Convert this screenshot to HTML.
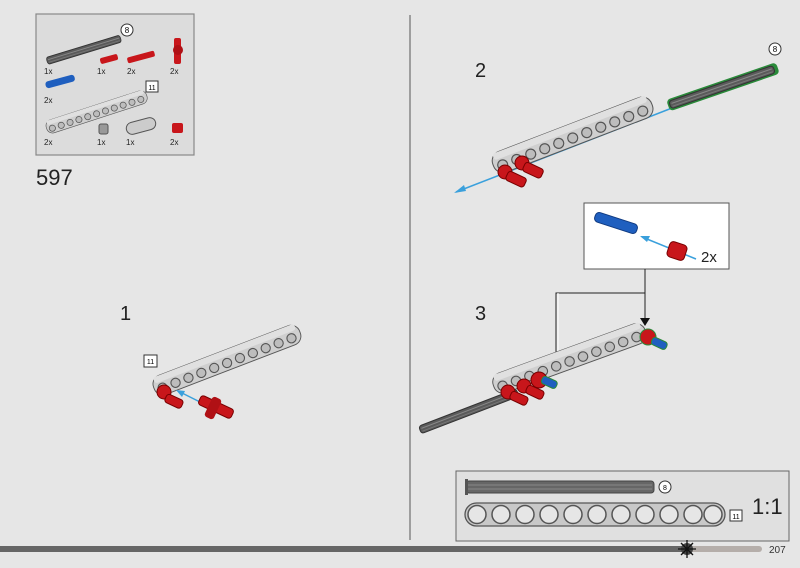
<!DOCTYPE html>
<html><head><meta charset="utf-8"><style>
html,body{margin:0;padding:0;background:#e6e6e6;}
svg{display:block;font-family:"Liberation Sans",sans-serif;}
</style></head><body>
<svg width="800" height="568" viewBox="0 0 800 568" xmlns="http://www.w3.org/2000/svg">
<defs>
<g id="beam">
<rect x="-9" y="-12" width="170" height="22" rx="10" fill="#cfcfcf" stroke="#555" stroke-width="1"/>
<rect x="-6" y="-12" width="164" height="7" rx="3" fill="#e0e0e0"/>
<g fill="#bdbdbd" stroke="#555" stroke-width="1.2">
<circle cx="0" cy="2" r="5"/><circle cx="15" cy="2" r="5"/><circle cx="30" cy="2" r="5"/><circle cx="45" cy="2" r="5"/><circle cx="60" cy="2" r="5"/><circle cx="75" cy="2" r="5"/><circle cx="90" cy="2" r="5"/><circle cx="105" cy="2" r="5"/><circle cx="120" cy="2" r="5"/><circle cx="135" cy="2" r="5"/><circle cx="150" cy="2" r="5"/>
</g>
</g>
<g id="axle">
<rect x="0" y="-4" width="110" height="8" rx="3" fill="#5a5a5a" stroke="#333"/>
<line x1="2" y1="-1" x2="108" y2="-1" stroke="#888"/>
<line x1="2" y1="2" x2="108" y2="2" stroke="#777"/>
</g>
</defs>
<rect width="800" height="568" fill="#e6e6e6"/>

<rect x="36" y="14" width="158" height="141" fill="#dcdcdc" stroke="#888" stroke-width="1.2"/>
<g transform="translate(47,61) rotate(-17)"><use href="#axle" transform="scale(0.7,0.9)"/></g>
<circle cx="127" cy="30" r="6" fill="#fff" stroke="#333"/><text x="127" y="33" font-size="8" text-anchor="middle">8</text>
<rect x="100" y="56" width="18" height="6" rx="2" fill="#c8161b" transform="rotate(-15 109 59)"/>
<rect x="127" y="54" width="28" height="6" rx="2" fill="#c8161b" transform="rotate(-15 141 57)"/>
<rect x="174" y="38" width="7" height="26" rx="2" fill="#c8161b"/><circle cx="178" cy="50" r="5" fill="#b01015"/>
<rect x="45" y="78" width="30" height="7" rx="3" fill="#1f5fbf" transform="rotate(-15 60 81)"/>
<text font-size="8" fill="#222"><tspan x="44" y="74">1x</tspan><tspan x="97" y="74">1x</tspan><tspan x="127" y="74">2x</tspan><tspan x="170" y="74">2x</tspan><tspan x="44" y="103">2x</tspan><tspan x="44" y="145">2x</tspan><tspan x="97" y="145">1x</tspan><tspan x="126" y="145">1x</tspan><tspan x="170" y="145">2x</tspan></text>
<use href="#beam" transform="translate(52,127) rotate(-18) scale(0.62)"/>
<rect x="146" y="81" width="12" height="11" fill="#fff" stroke="#333"/><text x="152" y="90" font-size="7" text-anchor="middle">11</text>
<rect x="99" y="124" width="9" height="10" rx="2" fill="#999" stroke="#555"/>
<rect x="126" y="120" width="30" height="12" rx="6" fill="#ccc" stroke="#555" transform="rotate(-15 141 126)"/>
<rect x="172" y="123" width="11" height="10" rx="2" fill="#c8161b"/>
<text x="36" y="185" font-size="22" fill="#222">597</text>

<line x1="410" y1="15" x2="410" y2="540" stroke="#555" stroke-width="1"/>

<text x="120" y="320" font-size="20" fill="#222">1</text>
<use href="#beam" transform="translate(162,386) rotate(-21) scale(0.92)"/>
<rect x="144" y="355" width="13" height="12" fill="#fff" stroke="#333"/><text x="150.5" y="364" font-size="7" text-anchor="middle">11</text>
<circle cx="164" cy="392" r="7" fill="#c8161b" stroke="#700"/>
<rect x="166" y="393" width="18" height="9" rx="3" fill="#c8161b" stroke="#700" transform="rotate(25 166 397)"/>
<line x1="218" y1="411" x2="178" y2="391" stroke="#3aa0dc" stroke-width="1.5"/>
<polygon points="176,390 185,391 182,397" fill="#3aa0dc"/>
<rect x="198" y="402" width="36" height="10" rx="3" fill="#c8161b" stroke="#700" transform="rotate(25 216 407)"/>
<rect x="208" y="397" width="10" height="22" rx="3" fill="#b01015" transform="rotate(25 213 408)"/>

<text x="475" y="77" font-size="20" fill="#222">2</text>
<line x1="456" y1="192" x2="672" y2="108" stroke="#3aa0dc" stroke-width="1.5"/>
<polygon points="454,193 464,185 466,191" fill="#3aa0dc"/>
<use href="#beam" transform="translate(502,163) rotate(-21) scale(1.0)"/>
<g transform="translate(670,105) rotate(-19)"><rect x="-2" y="-6" width="116" height="12" rx="4" fill="#2a8a3a"/><use href="#axle"/></g>
<circle cx="775" cy="49" r="6" fill="#fff" stroke="#333"/><text x="775" y="52" font-size="8" text-anchor="middle">8</text>
<circle cx="505" cy="172" r="7" fill="#c8161b" stroke="#700"/><circle cx="522" cy="163" r="7" fill="#c8161b" stroke="#700"/>
<rect x="507" y="170" width="20" height="10" rx="3" fill="#c8161b" stroke="#700" transform="rotate(25 507 175)"/>
<rect x="524" y="161" width="20" height="10" rx="3" fill="#c8161b" stroke="#700" transform="rotate(25 524 166)"/>

<rect x="584" y="203" width="145" height="66" fill="#fff" stroke="#555"/>
<rect x="594" y="218" width="44" height="10" rx="4" fill="#1f5fbf" stroke="#103a80" transform="rotate(18 616 223)"/>
<line x1="696" y1="259" x2="642" y2="237" stroke="#3aa0dc" stroke-width="1.5"/>
<polygon points="640,236 650,236 647,242" fill="#3aa0dc"/>
<rect x="668" y="243" width="18" height="16" rx="4" fill="#c8161b" stroke="#700" transform="rotate(18 677 251)"/>
<text x="701" y="262" font-size="15" fill="#222">2x</text>
<polyline points="645,269 645,293 556,293 556,372" fill="none" stroke="#222" stroke-width="1"/>
<line x1="645" y1="293" x2="645" y2="322" stroke="#222"/>
<polygon points="640,318 650,318 645,326" fill="#111"/>
<polygon points="551,366 561,366 556,375" fill="#111"/>
<polyline points="558,293 558,370" fill="none" stroke="#fff" stroke-width="1"/>
<text x="475" y="320" font-size="20" fill="#222">3</text>
<use href="#beam" transform="translate(502,384) rotate(-20) scale(0.95)"/>
<g transform="translate(420,430) rotate(-21)"><use href="#axle" transform="scale(0.95,1)"/></g>
<circle cx="508" cy="392" r="7" fill="#c8161b" stroke="#700"/><circle cx="524" cy="386" r="7" fill="#c8161b" stroke="#700"/><circle cx="539" cy="380" r="8" fill="#c8161b" stroke="#700"/>
<rect x="511" y="390" width="18" height="9" rx="3" fill="#c8161b" stroke="#700" transform="rotate(25 511 394)"/>
<rect x="527" y="384" width="18" height="9" rx="3" fill="#c8161b" stroke="#700" transform="rotate(25 527 388)"/>
<rect x="542" y="375" width="16" height="8" rx="3" fill="#1f5fbf" stroke="#2a8a3a" transform="rotate(25 542 379)"/>
<circle cx="648" cy="337" r="8" fill="#c8161b" stroke="#2a8a3a"/>
<rect x="652" y="336" width="16" height="8" rx="3" fill="#1f5fbf" stroke="#2a8a3a" transform="rotate(25 652 340)"/>

<rect x="456" y="471" width="333" height="70" fill="#e0e0e0" stroke="#666"/>
<rect x="466" y="481" width="188" height="12" rx="3" fill="#666" stroke="#444"/>
<line x1="468" y1="485" x2="652" y2="485" stroke="#888"/><line x1="468" y1="489" x2="652" y2="489" stroke="#888"/>
<rect x="465" y="479" width="3" height="16" fill="#555"/>
<circle cx="665" cy="487" r="6" fill="#fff" stroke="#333"/><text x="665" y="490" font-size="7" text-anchor="middle">8</text>
<rect x="465" y="503" width="260" height="23" rx="11.5" fill="#c8c8c8" stroke="#555" stroke-width="1.3"/>
<g fill="#e6e6e6" stroke="#555" stroke-width="1.5">
<circle cx="477" cy="514.5" r="9"/><circle cx="501" cy="514.5" r="9"/><circle cx="525" cy="514.5" r="9"/><circle cx="549" cy="514.5" r="9"/><circle cx="573" cy="514.5" r="9"/><circle cx="597" cy="514.5" r="9"/><circle cx="621" cy="514.5" r="9"/><circle cx="645" cy="514.5" r="9"/><circle cx="669" cy="514.5" r="9"/><circle cx="693" cy="514.5" r="9"/><circle cx="713" cy="514.5" r="9"/>
</g>
<rect x="730" y="510" width="12" height="11" fill="#fff" stroke="#333"/><text x="736" y="519" font-size="7" text-anchor="middle">11</text>
<text x="752" y="514" font-size="22" fill="#222">1:1</text>

<rect x="0" y="546" width="688" height="6" fill="#666"/>
<rect x="688" y="546" width="74" height="6" rx="3" fill="#b5aeaa"/>
<circle cx="687" cy="549" r="6" fill="#444"/>
<g stroke="#111" stroke-width="1.3"><line x1="678" y1="549" x2="696" y2="549"/><line x1="687" y1="540" x2="687" y2="558"/><line x1="681" y1="543" x2="693" y2="555"/><line x1="693" y1="543" x2="681" y2="555"/></g>
<text x="769" y="553" font-size="10" fill="#333">207</text>
</svg>
</body></html>
